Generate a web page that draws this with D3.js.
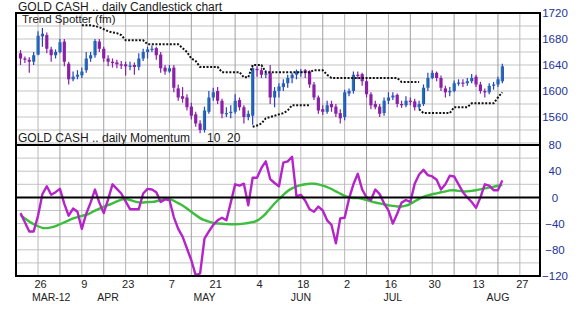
<!DOCTYPE html>
<html>
<head>
<meta charset="utf-8">
<script src="https://cdn.jsdelivr.net/npm/d3@7"></script>
<style>
  body { margin: 0; background: #fff; }
  text { font-family: "Liberation Sans", Arial, sans-serif; }
</style>
</head>
<body>
<svg id="chart"></svg>
<script>
// daily bars, Mar 20 2012 .. Aug 21 2012 (weekdays)
const opens = [1658,1650,1648,1645,1656,1684,1686,1664,1655,1660,
  1676,1642,1618,1622,1624,1632,1650,1655,1676,1665,
  1650,1645,1644,1641,1641,1638,1640,1637,1650,1660,
  1664,1666,1656,1636,1630,1636,1604,1592,1590,1576,
  1564,1550,1540,1568,1590,1600,1585,1565,1566,1568,
  1586,1575,1560,1562,1634,1632,1625,1628,1590,1600,
  1606,1612,1620,1625,1629,1632,1630,1610,1590,1572,
  1568,1580,1576,1566,1560,1596,1600,1625,1626,1615,
  1595,1580,1576,1566,1585,1590,1594,1580,1578,1585,
  1584,1575,1580,1605,1620,1628,1620,1604,1598,1600,
  1612,1613,1612,1615,1622,1610,1600,1598,1608,1610,
  1615];
const highs = [1663,1653,1652,1660,1692,1697,1690,1668,1664,1680,
  1680,1645,1630,1632,1636,1660,1660,1680,1680,1668,
  1655,1650,1648,1646,1645,1645,1644,1658,1665,1668,
  1670,1668,1660,1640,1640,1640,1610,1606,1595,1582,
  1568,1555,1576,1600,1605,1606,1588,1575,1578,1595,
  1590,1578,1570,1640,1638,1636,1632,1640,1606,1612,
  1618,1625,1628,1633,1634,1634,1632,1614,1593,1578,
  1585,1585,1580,1572,1602,1604,1630,1630,1628,1618,
  1598,1585,1580,1590,1598,1598,1596,1585,1592,1590,
  1588,1585,1610,1628,1632,1630,1624,1608,1606,1616,
  1618,1618,1620,1626,1625,1614,1604,1612,1614,1622,
  1642];
const lows = [1640,1643,1628,1640,1655,1668,1658,1645,1650,1658,
  1638,1610,1615,1618,1620,1628,1645,1651,1660,1645,
  1638,1636,1635,1634,1624,1632,1625,1632,1646,1650,
  1660,1648,1628,1625,1628,1598,1585,1582,1570,1556,
  1545,1535,1536,1565,1585,1580,1558,1560,1558,1565,
  1570,1550,1555,1548,1622,1620,1620,1580,1575,1590,
  1600,1605,1612,1618,1622,1620,1605,1586,1565,1563,
  1565,1568,1560,1550,1555,1592,1596,1618,1608,1590,
  1572,1572,1560,1562,1580,1586,1575,1574,1575,1578,
  1570,1572,1577,1600,1618,1615,1600,1590,1592,1598,
  1608,1606,1608,1612,1606,1596,1590,1595,1602,1606,
  1612];
const closes = [1650,1648,1645,1655,1685,1688,1665,1655,1660,1675,
  1645,1618,1622,1625,1630,1650,1655,1677,1665,1650,
  1645,1643,1641,1640,1638,1639,1637,1650,1660,1664,
  1665,1655,1635,1630,1635,1605,1590,1588,1575,1562,
  1550,1540,1570,1590,1598,1585,1565,1566,1568,1585,
  1575,1560,1565,1635,1632,1625,1627,1590,1600,1607,
  1612,1620,1625,1630,1630,1628,1610,1590,1570,1568,
  1578,1575,1565,1558,1598,1600,1625,1624,1615,1595,
  1578,1575,1565,1585,1590,1593,1580,1578,1585,1584,
  1575,1580,1605,1620,1628,1620,1605,1598,1600,1612,
  1613,1612,1615,1620,1610,1600,1598,1608,1610,1618,
  1638];

// Trend Spotter resistance / support (start = first bar index)
const trendUpperStart = 14;
const trendUpper = [1701,1701,1701,1700,1698,1695,1692,1690,1689,1686,
  1678,1678,1678,1678,1678,1672,1672,1672,1672,1672,
  1672,1672,1672,1666,1660,1650,1646,1637,1637,1637,
  1637,1637,1629,1629,1629,1629,1629,1621,1621,1640,
  1640,1640,1629,1629,1629,1629,1629,1629,1629,1629,
  1629,1629,1629,1632,1632,1632,1625,1620,1620,1620,
  1620,1620,1620,1620,1620,1620,1620,1620,1620,1620,
  1620,1620,1620,1614,1614,1614,1614,1614];
const trendLowerAStart = 53;
const trendLowerA = [1545,1547,1550,1558,1560,1562,1564,1566,1570,1578,1578,1578,1578,1578];
const trendLowerBStart = 91;
const trendLowerB = [1572,1566,1566,1566,1566,1566,1566,1566,1575,1575,
  1575,1575,1581,1581,1581,1581,1581,1581,1590,1598];

// momentum 10 and 20
const momentum10 = [-24,-38,-52,-52,-28,5,17,4,8,13,
  -10,-28,-17,-22,-48,-25,-8,12,-8,-24,
  -3,20,13,6,-6,-18,-18,-18,6,13,
  12,8,-7,-3,-4,-30,-48,-60,-78,-96,
  -119,-116,-63,-52,-42,-35,-31,-35,-8,20,
  18,21,-12,30,30,45,55,28,22,17,
  53,55,62,2,4,-5,-18,-22,-14,-20,
  -35,-42,-70,-32,-31,-2,20,36,12,0,
  -4,12,5,-9,-20,-40,-25,-8,-4,-7,
  21,35,42,34,32,27,12,20,33,32,
  20,8,0,-7,-16,0,20,18,11,11,
  26];
const momentum20 = [-27,-32,-37,-41,-44,-47,-47,-46,-44,-41,
  -38,-35,-32,-30,-28,-27,-24,-20,-17,-14,
  -12,-9,-6,-3,-2,-4,-6,-8,-8,-7,
  -7,-6,-4,-2,-2,-5,-9,-12,-17,-22,
  -27,-32,-35,-37,-39,-40,-40,-41,-41,-41,
  -41,-40,-39,-38,-36,-31,-25,-17,-9,-3,
  4,10,14,17,19,20,21,21,20,18,
  16,13,9,6,2,0,-1,-1,-2,-4,
  -6,-8,-9,-11,-12,-13,-14,-14,-13,-10,
  -6,-2,1,3,5,6,8,9,11,11,
  10,9,9,10,11,12,14,15,16,18,
  19];

const priceTicks = [1560, 1600, 1640, 1680, 1720];
const momentumTicks = [-120, -80, -40, 0, 40, 80];
const dayTickDates = ['2012-03-26','2012-04-09','2012-04-23','2012-05-07','2012-05-21','2012-06-04',
  '2012-06-18','2012-07-02','2012-07-16','2012-07-30','2012-08-13','2012-08-27'];
const monthLabels = ['MAR-12', 'APR', 'MAY', 'JUN', 'JUL', 'AUG'];
const monthLabelDates = ['2012-03-29','2012-04-17','2012-05-17','2012-06-18','2012-07-17','2012-08-20'];

const width = 583, height = 319;
const padL = 16, padR = 540, padT = 13, padMid = 145, padB = 276;

const svg = d3.select('#chart').attr('width', width).attr('height', height);

// trading calendar (weekdays) used for the x positions
const parse = d3.timeParse('%Y-%m-%d');
const tradingDays = d3.timeDay.range(new Date(2012, 2, 20), new Date(2012, 8, 1))
  .filter(d => d.getDay() % 6 !== 0);
const idx = d => tradingDays.findIndex(t => +t === +d);

const x = d3.scaleLinear().domain([-1.03, 118.6]).range([padL, padR]);
const yPrice = d3.scaleLinear().domain([1516.9, 1720]).range([padMid, padT]);
const yMom = d3.scaleLinear().domain([-120, 80]).range([padB, padMid]);

const defs = svg.append('defs');
const grad = defs.append('linearGradient').attr('id', 'upGrad')
  .attr('x1', 0).attr('x2', 1).attr('y1', 0).attr('y2', 0);
grad.append('stop').attr('offset', '0%').attr('stop-color', '#1d8e9c');
grad.append('stop').attr('offset', '100%').attr('stop-color', '#2b3bd0');

// grid
const grid = svg.append('g');
grid.selectAll('.hp').data(d3.range(1520, 1721, 20)).enter().append('line')
  .attr('x1', padL).attr('x2', padR)
  .attr('y1', d => yPrice(d)).attr('y2', d => yPrice(d))
  .style('stroke', '#c4c4c4').style('stroke-width', 1);
grid.selectAll('.hm').data(d3.range(-100, 80, 20)).enter().append('line')
  .attr('x1', padL).attr('x2', padR)
  .attr('y1', d => yMom(d)).attr('y2', d => yMom(d))
  .style('stroke', '#c4c4c4').style('stroke-width', 1);

const mondays = d3.timeMonday.range(new Date(2012, 2, 26), new Date(2012, 8, 1));
const labeled = new Set(dayTickDates.map(s => +parse(s)));
grid.selectAll('.v').data(mondays).enter().append('line')
  .attr('x1', d => x(idx(d))).attr('x2', d => x(idx(d)))
  .attr('y1', padT).attr('y2', padB)
  .style('stroke', d => labeled.has(+d) ? '#b8b8b8' : '#a0a0a0')
  .style('stroke-width', 1);

// candles
const bars = d3.range(closes.length).map(i => ({
  i, o: opens[i], h: highs[i], l: lows[i], c: closes[i]
}));
const candles = svg.append('g');
candles.selectAll('.wick').data(bars).enter().append('line')
  .attr('x1', d => x(d.i)).attr('x2', d => x(d.i))
  .attr('y1', d => yPrice(d.h)).attr('y2', d => yPrice(d.l))
  .style('stroke', d => d.c >= d.o ? '#2a40c4' : '#8a1fa8')
  .style('stroke-width', 1.2);
candles.selectAll('.body').data(bars).enter().append('rect')
  .attr('x', d => x(d.i) - 1.6)
  .attr('width', 3.2)
  .attr('y', d => yPrice(Math.max(d.o, d.c)))
  .attr('height', d => Math.max(1.2, Math.abs(yPrice(d.o) - yPrice(d.c))))
  .style('fill', d => d.c >= d.o ? 'url(#upGrad)' : '#8a1fa8');

// trend spotter dotted lines
const dotted = (start, vals) => {
  const line = d3.line().x((d, k) => x(start + k)).y(d => yPrice(d));
  svg.append('path').datum(vals).attr('d', line)
    .style('fill', 'none').style('stroke', '#111')
    .style('stroke-width', 2).style('stroke-dasharray', '2,1.6');
};
dotted(trendUpperStart, trendUpper);
dotted(trendLowerAStart, trendLowerA);
dotted(trendLowerBStart, trendLowerB);

// momentum lines
svg.append('path').datum(momentum20)
  .attr('d', d3.line().x((d, i) => x(i)).y(d => yMom(d)).curve(d3.curveBasis))
  .style('fill', 'none').style('stroke', '#3cbd3c').style('stroke-width', 2.4);
svg.append('path').datum(momentum10)
  .attr('d', d3.line().x((d, i) => x(i)).y(d => yMom(d)))
  .style('fill', 'none').style('stroke', '#b424c8').style('stroke-width', 2.4)
  .style('stroke-linejoin', 'round');

// frames
svg.append('line').attr('x1', padL).attr('x2', padR).attr('y1', yMom(0)).attr('y2', yMom(0))
  .style('stroke', '#000').style('stroke-width', 2);
svg.append('rect').attr('x', padL).attr('y', padT).attr('width', padR - padL).attr('height', padMid - padT)
  .style('fill', 'none').style('stroke', '#000').style('stroke-width', 2);
svg.append('rect').attr('x', padL).attr('y', padMid).attr('width', padR - padL).attr('height', padB - padMid)
  .style('fill', 'none').style('stroke', '#000').style('stroke-width', 2);

// right axes
const styleRight = g => {
  g.select('.domain').remove();
  g.selectAll('text').attr('x', 15).attr('text-anchor', 'middle')
    .style('font-size', '11.5px').style('fill', '#23339a');
};
svg.append('g').attr('transform', `translate(${padR},0)`)
  .call(d3.axisRight(yPrice).tickValues(priceTicks).tickSize(0).tickFormat(d3.format('d')))
  .call(styleRight);
svg.append('g').attr('transform', `translate(${padR},0)`)
  .call(d3.axisRight(yMom).tickValues(momentumTicks).tickSize(0).tickFormat(d3.format('d')))
  .call(styleRight);

// bottom axis
const dayIdx = dayTickDates.map(s => idx(parse(s)));
svg.append('g').attr('transform', `translate(0,${padB})`)
  .call(d3.axisBottom(x).tickValues(dayIdx).tickSize(0).tickPadding(4)
    .tickFormat((d, i) => d3.timeFormat('%-d')(parse(dayTickDates[i]))))
  .call(g => {
    g.select('.domain').remove();
    g.selectAll('text').attr('dx', 2).style('font-size', '11px').style('fill', '#222');
  });
svg.append('g').selectAll('text').data(monthLabels).enter().append('text')
  .attr('x', (d, i) => x(idx(parse(monthLabelDates[i]))))
  .attr('y', 300.5)
  .attr('text-anchor', 'middle')
  .style('font-size', '10.5px').style('fill', '#222')
  .text(d => d);

// titles
const title = (txt, tx, ty, size) => svg.append('text').attr('x', tx).attr('y', ty)
  .style('font-size', size).style('fill', '#1a1a1a').text(txt);
title('GOLD CASH .. daily Candlestick chart', 18, 10.5, '12px');
title('Trend Spotter (fm)', 22, 22.5, '11.5px');
title('GOLD CASH .. daily Momentum', 18, 141.5, '12px');
title('10', 207, 141.5, '12px');
title('20', 227, 141.5, '12px');
</script>
</body>
</html>
